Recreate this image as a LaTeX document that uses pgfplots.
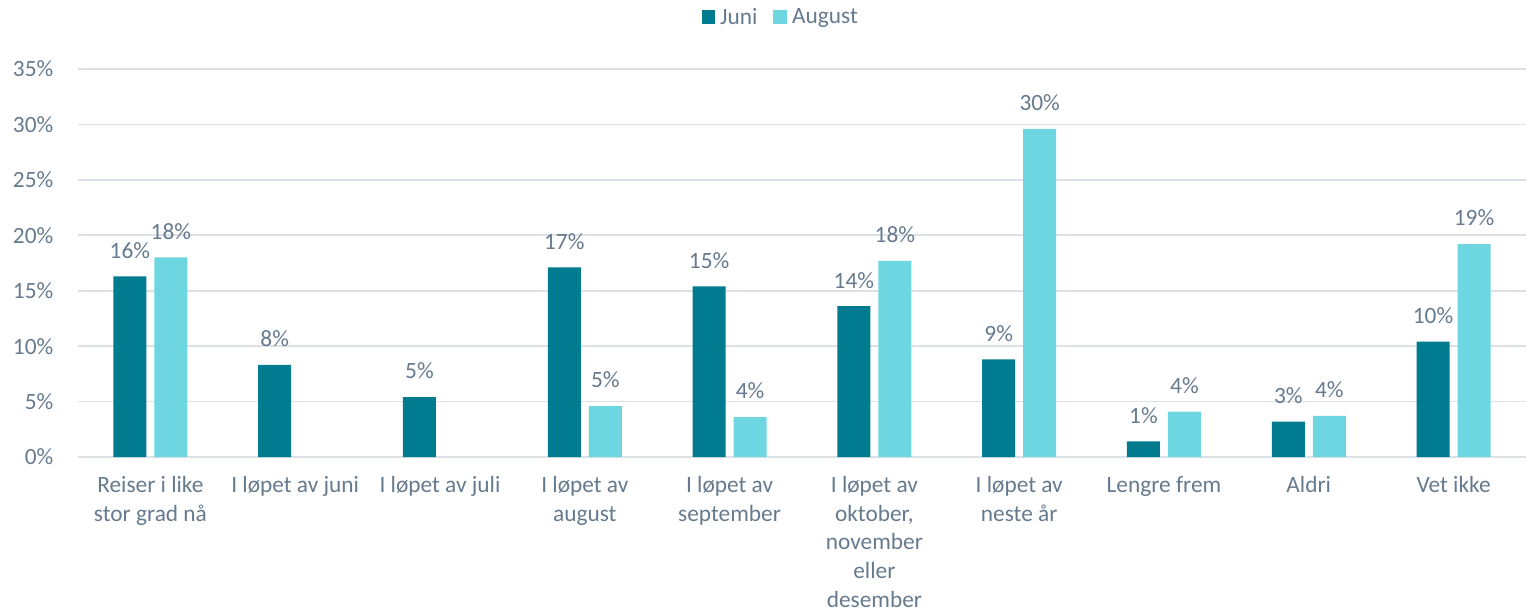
\documentclass[border=0pt]{standalone}
\usepackage{pgfplots}
\pgfplotsset{compat=1.18}
\usepackage{fontspec}
\setmainfont{Carlito}
\definecolor{juni}{HTML}{007B8F}
\definecolor{aug}{HTML}{6ED6E0}
\definecolor{txt}{HTML}{667A8E}
\definecolor{gridc}{HTML}{DCE1E5}
\begin{document}
\begin{tikzpicture}
\useasboundingbox (0,0) rectangle (1144.5pt,-460.5pt);
\begin{axis}[
  at={(58.5pt,-342.75pt)}, anchor=south west,
  scale only axis, width=1086pt, height=291pt,
  ymin=0, ymax=35, xmin=-0.5, xmax=9.5,
  ytick={0,5,...,35},
  yticklabel={\pgfmathprintnumber{\tick}\%},
  /pgf/number format/assume math mode=true,
  xtick={0,...,9},
  xticklabels={{Reiser i like\\stor grad nå},{I løpet av juni},{I løpet av juli},{I løpet av\\august},{I løpet av\\september},{I løpet av\\oktober,\\november\\eller\\desember},{I løpet av\\neste år},{Lengre frem},{Aldri},{Vet ikke}},
  x tick label style={align=center, font=\fontsize{17.5pt}{21.5pt}\selectfont, text=txt, anchor=north, yshift=-11pt},
  y tick label style={font=\fontsize{17.5pt}{21.5pt}\selectfont, text=txt, xshift=-15pt},
  major tick length=0pt,
  axis line style={draw=none},
  ymajorgrids, grid style={gridc, line width=1.2pt},
  ybar=6pt, bar width=24.75pt,
  nodes near coords={\pgfmathprintnumber[fixed,precision=0]{\pgfplotspointmeta}\%},
  nodes near coords style={font=\fontsize{17.5pt}{21.5pt}\selectfont, text=txt, yshift=10pt, /pgf/number format/assume math mode=true},
  legend columns=2,
  legend style={draw=none, fill=none, at={(0.4855,1)}, anchor=south, yshift=28pt,
    font=\fontsize{17.5pt}{21.5pt}\selectfont, text=txt,
    /tikz/every odd column/.append style={column sep=2pt},
    /tikz/every even column/.append style={column sep=10pt}},
  legend image code/.code={\fill[#1] (0pt,-5pt) rectangle (10pt,5pt);},
]
\addplot[draw=none, fill=juni] coordinates {(0,16.3) (1,8.3) (2,5.4) (3,17.1) (4,15.4) (5,13.6) (6,8.8) (7,1.4) (8,3.2) (9,10.4)};
\addplot[draw=none, fill=aug] coordinates {(0,18.0) (3,4.6) (4,3.6) (5,17.7) (6,29.6) (7,4.1) (8,3.7) (9,19.2)};
\legend{Juni, August}
\end{axis}
\end{tikzpicture}
\end{document}
